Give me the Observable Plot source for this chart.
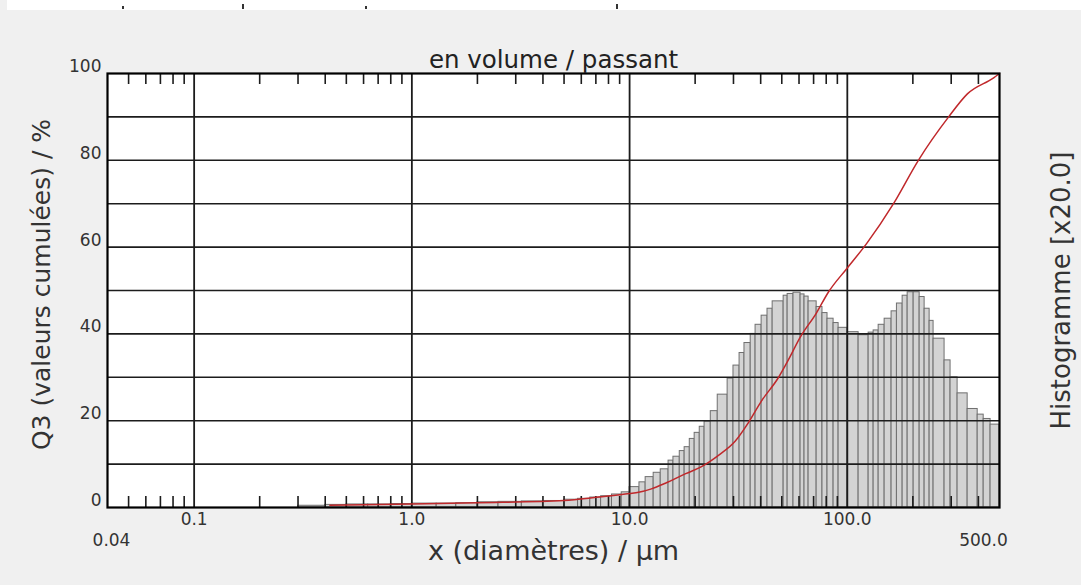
<!DOCTYPE html>
<html><head><meta charset="utf-8">
<script src="https://cdn.jsdelivr.net/npm/d3@7"></script>
<script src="https://cdn.jsdelivr.net/npm/@observablehq/plot@0.6"></script>
<style>
html,body{margin:0;padding:0;background:#f0f0f0;width:1081px;height:585px;overflow:hidden;}
#chart{position:absolute;left:0;top:0;}
#strip{position:absolute;left:7px;top:0;width:1074px;height:10px;background:#fff;}
.mk{position:absolute;top:4px;width:2px;height:5px;background:#333;}
</style></head><body>
<div id="chart"></div>
<div id="strip"></div>
<div class="mk" style="left:122px;height:3px;top:6px"></div>
<div class="mk" style="left:242px"></div>
<div class="mk" style="left:365px;height:3px;top:6px"></div>
<div class="mk" style="left:616px"></div>
<script>
// Histogram class edges (µm) and bar heights (% on the left scale)
const binEdges = [0.30,0.40,0.50,0.63,0.80,1.0,1.3,1.6,2.0,2.5,3.2,4.0,5.0,5.8,6.6,7.4,8.3,9.2,10.0,
  11.1,11.85,12.9,13.9,15.1,15.9,17.0,17.9,18.9,19.9,21.0,22.1,23.6,25.4,28.2,30.0,32.0,33.7,36.0,37.9,
  40.4,43.0,45.4,51.0,53.2,56.6,61.0,63.6,66.4,72.3,76.9,81.1,86.5,91.2,100,112.7,125.3,132.1,139.3,148.4,
  159.7,169,179.5,189.3,201.7,214.9,226.5,238.8,249,279.7,298,321,357,397,423,455,500];
const binHeights = [0.4,0.6,0.7,0.7,0.8,0.9,0.9,1.0,1.2,1.3,1.4,1.5,1.8,2.0,2.3,2.6,3.0,3.5,
  4.7,5.8,7.0,8.0,8.8,10.8,11.7,13.0,13.9,15.8,17.2,18.6,19.8,22.2,26.0,29.7,32.7,35.6,37.9,40.0,
  42.1,44.2,45.8,47.5,48.8,49.2,49.5,49.1,48.6,47.5,46.2,44.8,43.5,42.5,41.4,40.4,39.7,40.3,40.8,42.1,
  43.5,45.2,47.0,48.8,49.6,49.6,48.5,45.8,43.0,38.9,33.9,30.0,26.3,22.7,21.4,20.4,19.1];
// Cumulative curve Q3 (%)
const cumSizes  = [0.42,1.0,2.0,5.0,7.2,10.0,11.0,12.6,14.6,18.1,21.4,25.6,30.6,35.2,40.3,48.2,53.6,60.9,72.1,81.8,100,122.6,163,212,292,356,470,500];
const cumValues = [0.5,0.8,1.1,1.6,2.4,3.2,3.5,4.3,5.6,7.8,9.4,12.0,15.3,19.6,24.5,29.9,34.0,39.3,44.8,49.6,55.2,60.8,70,80,90,95.3,99,100];
// Axis ticks
const majorTicks = [0.1, 1, 10, 100];
const endTicks = [0.04, 500];
const endLabels = ["0.04", "500.0"];
const minorTicks = [0.05,0.06,0.07,0.08,0.09,0.2,0.3,0.4,0.5,0.6,0.7,0.8,0.9,2,3,4,5,6,7,8,9,20,30,40,50,60,70,80,90,200,300,400];
const yLabels = [0,20,40,60,80,100];
const yGrid = [10,20,30,40,50,60,70,80,90];
const titleText = "en volume / passant";
const xTitle = "x (diamètres) / µm";
const yTitle = "Q3 (valeurs cumulées) / %";
const y2Title = "Histogramme [x20.0]";

const bins = binHeights.map((h, i) => ({x1: binEdges[i], x2: binEdges[i + 1], h}));
const cum = cumSizes.map((s, i) => ({s, v: cumValues[i]}));
const ends = endTicks.map((x, i) => ({x, label: endLabels[i]}));
const font = "'DejaVu Sans', Verdana, sans-serif";
const ink = "#1c1c1c";

const chart = Plot.plot({
  width: 1081, height: 585,
  marginLeft: 107, marginRight: 82, marginTop: 73, marginBottom: 78,
  style: {background: "transparent", fontFamily: font, color: "#333", overflow: "visible"},
  x: {type: "log", domain: [0.04, 500]},
  y: {domain: [0, 100]},
  marks: [
    Plot.frame({fill: "white", stroke: null}),
    Plot.rectY(bins, {x1: "x1", x2: "x2", y: "h", fill: "#d3d3d3", stroke: "#6f6f6f", strokeWidth: 1}),
    Plot.ruleY(yGrid, {stroke: ink, strokeWidth: 1.6}),
    Plot.ruleX(majorTicks, {stroke: ink, strokeWidth: 1.8}),
    Plot.ruleX(minorTicks, {x: d => d, y1: 0, y2: 0, insetTop: -11, stroke: ink, strokeWidth: 1.6}),
    Plot.ruleX(minorTicks, {x: d => d, y1: 100, y2: 100, insetBottom: -11, stroke: ink, strokeWidth: 1.6}),
    Plot.line(cum, {x: "s", y: "v", stroke: "#c0282b", strokeWidth: 1.5, curve: "monotone-x"}),
    Plot.frame({stroke: "#000", strokeWidth: 2.2}),
    Plot.axisX(majorTicks, {anchor: "bottom", tickSize: 0, tickPadding: 5, tickFormat: d3.format(".1f"), fontSize: 17, fill: "#333", label: null}),
    Plot.text(ends, {x: "x", text: "label", frameAnchor: "bottom", lineAnchor: "middle", dy: 33, fontSize: 17, fill: "#333", textAnchor: "middle"}),
    Plot.axisY(yLabels, {anchor: "left", tickSize: 0, tickPadding: 6, dy: -7, fontSize: 17, fill: "#333", label: null}),
    Plot.text([titleText], {frameAnchor: "top", lineAnchor: "middle", textAnchor: "middle", dy: -13, fontSize: 24.5, fill: "#222"}),
    Plot.text([xTitle], {frameAnchor: "bottom", lineAnchor: "middle", textAnchor: "middle", dy: 44, fontSize: 27, fill: "#333"}),
    Plot.text([yTitle], {frameAnchor: "left", lineAnchor: "middle", textAnchor: "middle", dx: -66, dy: -6, rotate: -90, fontSize: 25, fill: "#333"}),
    Plot.text([y2Title], {frameAnchor: "right", lineAnchor: "middle", textAnchor: "middle", dx: 62, dy: 0, rotate: -90, fontSize: 26, fill: "#333"})
  ]
});
document.getElementById("chart").appendChild(chart);
// nudge the two end labels inward as in the original
chart.querySelectorAll("text").forEach(t => {
  if (t.textContent === "0.04") t.setAttribute("dx", "4");
  if (t.textContent === "500.0") t.setAttribute("dx", "-16");
});
</script>
</body></html>
